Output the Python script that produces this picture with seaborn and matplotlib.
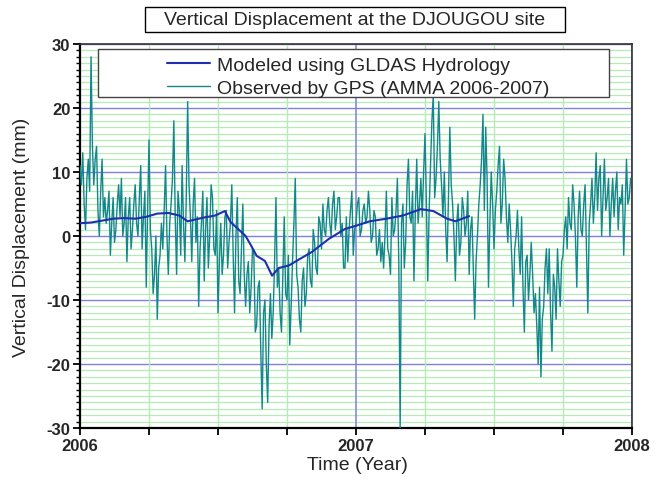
import numpy as np
import pandas as pd
import matplotlib
matplotlib.use("Agg")
import matplotlib.pyplot as plt
import seaborn as sns
from matplotlib.patches import Rectangle
from matplotlib.ticker import MultipleLocator, FixedLocator

# ---------------- data ----------------
title_text = "Vertical Displacement at the DJOUGOU site"
label_model = "Modeled using GLDAS Hydrology"
label_gps = "Observed by GPS (AMMA 2006-2007)"
xlabel_text = "Time (Year)"
ylabel_text = "Vertical Displacement (mm)"
x_tick_values = [2006, 2007, 2008]
x_tick_labels = ["2006", "2007", "2008"]
y_tick_values = [-30, -20, -10, 0, 10, 20, 30]

gps_start = 2006.0
gps_step = 0.005
gps_values = [
    11, 8, 13, 5, 1, 9, 12, 7, 28, 14, 8, 12, 14, 4, 0, 7, 12, 3, 6, 2,
    4, 7, -3, 2, 6, -1, 1, 5, 8, 3, 9, 0, 2, 6, -4, 3, 6, -2, 1, 5,
    8, 2, 0, 6, 11, -2, 3, 7, -8, 4, 15, 1, -2, -9, -6, 0, -13, -5, -3, 2,
    -2, 4, 11, 0, -6, 2, 5, 9, 18, 3, -6, 7, 4, -3, 11, 2, -4, 6, 21, 8,
    3, -4, 5, 9, -1, 3, -11, -2, 2, 7, -7, 1, 6, -5, 0, 8, 6, -2, -3, 4,
    -12, -4, 2, -6, -3, 3, 4, -5, -1, 2, 8, -3, -12, 0, 6, -7, -9, -2, 5, -6,
    -11, -6, -4, -12, -8, -2, -3, -15, -14, -8, -7, -18, -27, -12, -10, -20, -26, -14, -9, -16,
    -12, -4, 6, -8, -5, -12, -15, -6, 3, -9, -10, -3, -17, -11, -4, 2, 9, -6, -8, -13,
    -15, -7, -5, -11, -9, -3, -2, -7, -8, 1, -1, -5, -6, 3, 2, -2, 5, 1, 0, 4,
    6, 2, 0, 5, 7, 1, 3, 6, 6, 0, 2, -5, -5, 3, -4, 1, 4, 7, -3, 1,
    2, 5, 6, 0, 1, 4, 5, 2, 3, 7, 4, -1, 0, 4, 3, -3, -2, 1, -4, -1,
    -5, 0, 7, -2, -3, -6, 6, 0, 1, 4, 9, -4, -30, 2, 5, -5, -1, 8, 12, 3,
    2, 7, -7, 4, 12, 2, 5, 9, 3, 10, 16, 5, -7, 4, 11, 18, 22, 6, 9, 14,
    21, 12, 8, 3, 10, 1, -4, 6, 17, 8, 5, 0, -7, 2, 5, -3, -1, 6, 4, 0,
    2, 7, -6, 1, 3, -5, -13, -4, 0, 5, 8, 12, 19, 4, 17, 9, -8, 2, 10, 5,
    -2, 4, 7, 11, 14, 2, 5, 12, 9, 3, -1, 5, 1, -4, -11, -2, 0, 4, -2, -6,
    3, -8, -15, -4, -3, -10, -6, -1, -6, -12, -9, -14, -20, -8, -22, -13, -11, -5, -2, -9,
    -2, -12, -18, -6, -8, -13, -2, -7, -11, -4, -3, 1, 3, -2, 6, 2, 1, 8, 5, 0,
    -8, 3, 7, 1, 0, 5, 8, -2, -12, 2, 5, 9, 2, 6, 13, 4, 9, 11, 0, 6,
    12, 4, 6, 9, 0, 5, 9, 3, 7, 10, 1, 6, 5, 8, -3, 4, 12, 5, 6, 9,
]

model_time = [2006.00, 2006.04, 2006.08, 2006.12, 2006.16, 2006.20, 2006.24,
              2006.28, 2006.32, 2006.36, 2006.39, 2006.42, 2006.45, 2006.49,
              2006.525, 2006.545, 2006.57, 2006.60, 2006.62, 2006.64, 2006.67,
              2006.696, 2006.72, 2006.757, 2006.80, 2006.84, 2006.90, 2006.96,
              2007.00, 2007.05, 2007.11, 2007.17, 2007.235, 2007.28, 2007.33,
              2007.36, 2007.41]
model_values = [2.0, 2.1, 2.4, 2.7, 2.8, 2.7, 3.0,
                3.5, 3.6, 3.2, 2.3, 2.6, 2.9, 3.2,
                3.9, 2.2, 1.2, 0.0, -1.5, -3.1, -3.9,
                -6.2, -5.0, -4.6, -3.5, -2.5, -0.5, 1.1,
                1.6, 2.3, 2.7, 3.2, 4.2, 3.9, 2.7,
                2.3, 3.1]

gps_df = pd.DataFrame({
    "t": gps_start + gps_step * np.arange(len(gps_values)),
    "v": gps_values,
})
model_df = pd.DataFrame({"t": model_time, "v": model_values})

# ---------------- style ----------------
sns.set_theme(style="white")
plt.rcParams["font.family"] = ["Liberation Sans", "DejaVu Sans"]

W, H = 659, 481
fig = plt.figure(figsize=(W / 100, H / 100), dpi=100)
ax_l, ax_r, ax_t, ax_b = 80, 632, 45, 429
ax = fig.add_axes([ax_l / W, (H - ax_b) / H, (ax_r - ax_l) / W, (ax_b - ax_t) / H])

gps_color = "#13878a"
model_color = "#1f2fb0"
minor_grid = "#b4ecb4"
major_grid = "#8080e0"

sns.lineplot(data=gps_df, x="t", y="v", ax=ax, color=gps_color, lw=1.0,
             label=label_gps, zorder=3, estimator=None)
sns.lineplot(data=model_df, x="t", y="v", ax=ax, color=model_color, lw=1.5,
             label=label_model, zorder=4, estimator=None)

ax.set_xlim(x_tick_values[0], x_tick_values[-1])
ax.set_ylim(y_tick_values[0], y_tick_values[-1])

ax.xaxis.set_major_locator(FixedLocator(x_tick_values))
ax.xaxis.set_minor_locator(MultipleLocator(0.25))
ax.yaxis.set_major_locator(FixedLocator(y_tick_values))
ax.yaxis.set_minor_locator(MultipleLocator(1))
ax.set_xticklabels(x_tick_labels, fontweight="bold", fontsize=12)
ax.set_yticklabels([str(v) for v in y_tick_values], fontweight="bold", fontsize=12)

# horizontal grid through the axis, vertical grid drawn on top of it
ax.grid(which="minor", axis="y", color=minor_grid, lw=0.9)
ax.grid(which="major", axis="y", color=major_grid, lw=1.0)
ax.grid(False, axis="x", which="both")
ax.set_axisbelow(True)
for xv in ax.xaxis.get_minorticklocs():
    ax.axvline(xv, color=minor_grid, lw=1.0, zorder=0.6)
for xv in ax.xaxis.get_majorticklocs():
    ax.axvline(xv, color=major_grid, lw=1.1, zorder=0.7)

ax.tick_params(which="major", direction="out", length=5, width=1.3, color="black",
               left=True, bottom=True, pad=2)
ax.tick_params(which="minor", axis="y", direction="out", length=3, width=1.0,
               color="black", left=True)
ax.tick_params(which="minor", axis="x", direction="out", length=5, width=1.3,
               color="black", bottom=True)

for s in ["left", "bottom"]:
    ax.spines[s].set_color("black")
    ax.spines[s].set_linewidth(1.6)
for s in ["top", "right"]:
    ax.spines[s].set_color("#333333")
    ax.spines[s].set_linewidth(1.2)

ax.set_xlabel(xlabel_text, fontsize=14)
ax.set_ylabel(ylabel_text, fontsize=14)
ax.xaxis.set_label_coords((357 - ax_l) / (ax_r - ax_l), (ax_b - 466) / (ax_b - ax_t))
ax.xaxis.label.set_va("center")
ax.yaxis.set_label_coords((22 - ax_l) / (ax_r - ax_l), 0.5)
ax.yaxis.label.set_va("center")

# legend: white framed box drawn at figure level, over the axes
handles, labels = ax.get_legend_handles_labels()
ax.get_legend().remove()
lx0, lx1, ly0, ly1 = 98, 609, 50, 98
fig.add_artist(Rectangle((lx0 / W, (H - ly1) / H), (lx1 - lx0) / W, (ly1 - ly0) / H,
                         transform=fig.transFigure, facecolor="white",
                         edgecolor="#444444", lw=1.0, zorder=5))
leg = fig.legend(handles[::-1], labels[::-1], loc="upper left",
                 bbox_to_anchor=(167 / W, (H - 57) / H),
                 frameon=False, fontsize=14, borderpad=0, borderaxespad=0,
                 handlelength=2.2, handletextpad=0.35, labelspacing=0.3)
leg.set_zorder(6)

# title box
fig.add_artist(Rectangle((145 / W, (H - 33) / H), 420 / W, 25 / H,
                         transform=fig.transFigure, fill=False,
                         edgecolor="black", lw=1.0, zorder=5))
fig.text(355 / W, (H - 20.5) / H, title_text, ha="center", va="center", fontsize=14)

fig.savefig("out.png", dpi=100)
